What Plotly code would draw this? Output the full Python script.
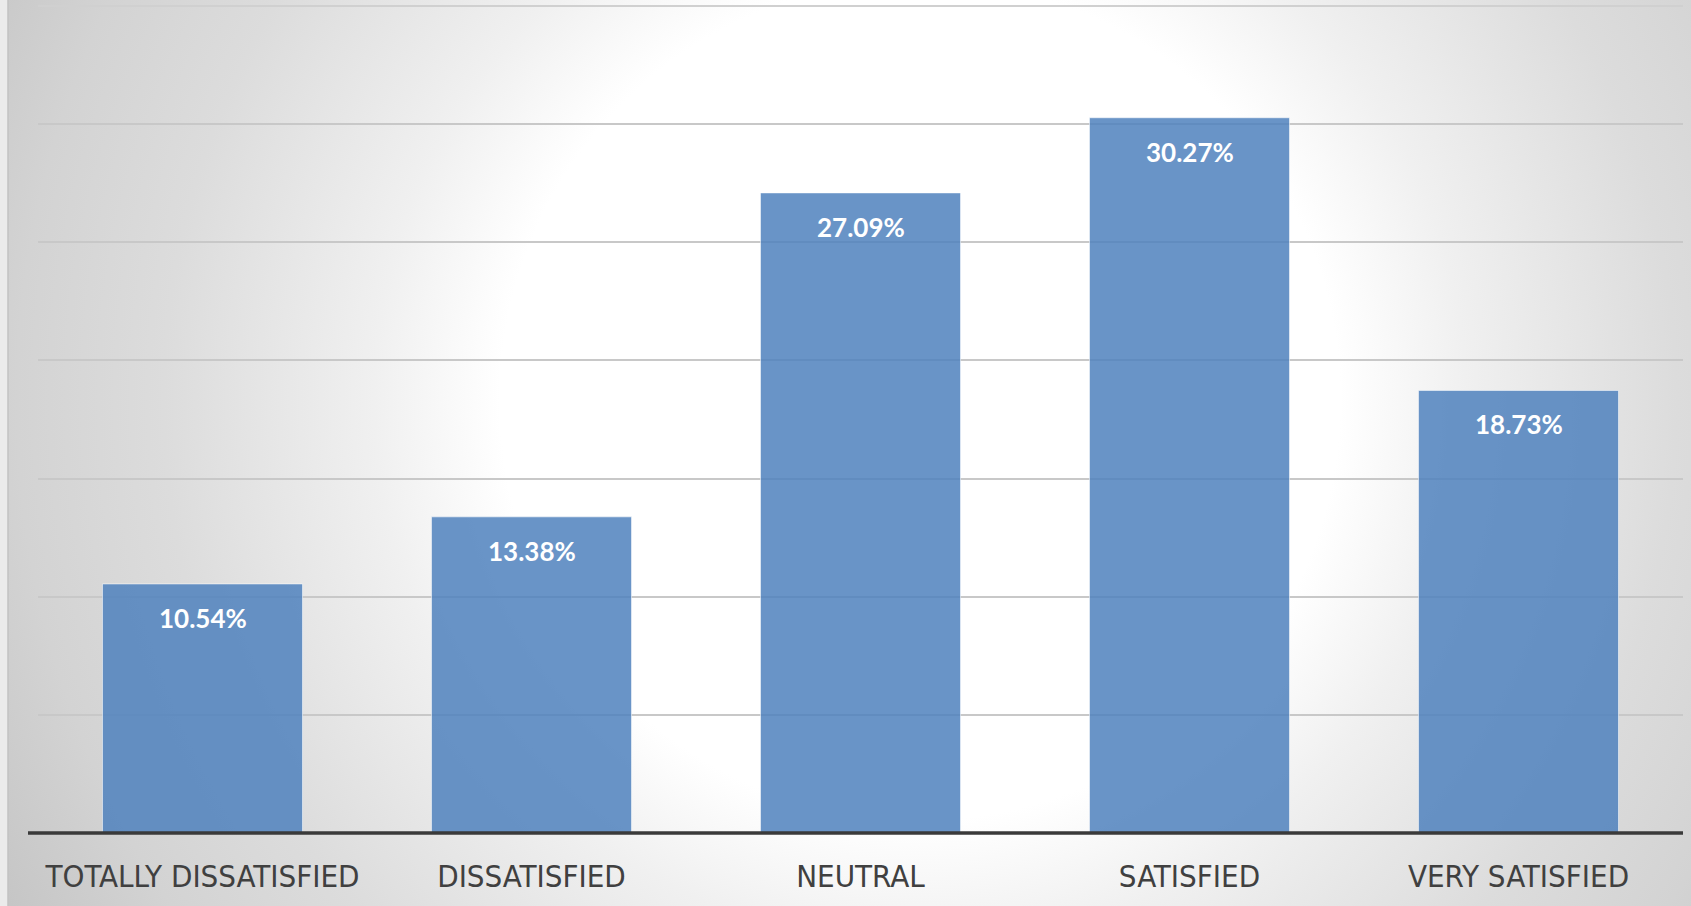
import base64
import plotly.graph_objects as go

categories = ["TOTALLY DISSATISFIED", "DISSATISFIED", "NEUTRAL", "SATISFIED", "VERY SATISFIED"]
values = [10.54, 13.38, 27.09, 30.27, 18.73]
value_labels = ["10.54%", "13.38%", "27.09%", "30.27%", "18.73%"]
y_max = 35

W, H = 1691, 906
ML, MR, MT, MB = 38, 8, 6, 73
PW, PH = W - ML - MR, H - MT - MB

svg = f"""<svg xmlns='http://www.w3.org/2000/svg' width='{W}' height='{H}' viewBox='0 0 {W} {H}' preserveAspectRatio='none'>
<defs><radialGradient id='g' gradientUnits='userSpaceOnUse' cx='920' cy='400' r='1050'>
<stop offset='0' stop-color='#ffffff'/>
<stop offset='0.40' stop-color='#ffffff'/>
<stop offset='0.52' stop-color='#f0f0f0'/>
<stop offset='0.72' stop-color='#dcdcdc'/>
<stop offset='0.86' stop-color='#d3d3d3'/>
<stop offset='1' stop-color='#c5c5c5'/>
</radialGradient></defs>
<rect x='0' y='0' width='{W}' height='{H}' fill='url(#g)'/>
</svg>"""
bg_src = "data:image/svg+xml;base64," + base64.b64encode(svg.encode()).decode()

fig = go.Figure()
fig.add_trace(go.Bar(
    x=categories, y=values,
    marker=dict(color="rgba(79,129,189,0.85)", line=dict(color="rgba(255,255,255,0.55)", width=1)),
    width=0.608,
    hoverinfo="skip",
))

for c, v, t in zip(categories, values, value_labels):
    fig.add_annotation(x=c, y=v, text=t, showarrow=False, yanchor="middle", yshift=-34,
                       font=dict(family="Lato, Open Sans, sans-serif", size=26, color="white", weight="bold"))

# top gridline (range edge)
fig.add_shape(type="line", xref="paper", yref="paper", x0=0, x1=1.0, y0=1, y1=1,
              line=dict(color="#d0d0d0", width=2), layer="below")
# baseline
fig.add_shape(type="line", xref="paper", yref="paper", x0=-10 / PW, x1=1.0, y0=0, y1=0,
              line=dict(color="#3a3a3a", width=3.5), layer="above")
# left frame strip and line
fig.add_shape(type="rect", xref="paper", yref="paper", x0=-ML / PW, x1=(8 - ML) / PW,
              y0=-MB / PH, y1=1 + MT / PH, fillcolor="#ebebeb", line=dict(width=0), layer="below")
fig.add_shape(type="line", xref="paper", yref="paper", x0=(8 - ML) / PW, x1=(8 - ML) / PW,
              y0=-MB / PH, y1=1 + MT / PH, line=dict(color="#c2c2c2", width=1.5), layer="below")

fig.add_layout_image(dict(source=bg_src, xref="paper", yref="paper", x=-ML / PW, y=1 + MT / PH,
                          sizex=W / PW, sizey=H / PH, xanchor="left", yanchor="top",
                          sizing="stretch", layer="below"))

fig.update_layout(
    width=W, height=H,
    margin=dict(l=ML, r=MR, t=MT, b=MB),
    paper_bgcolor="#d8d8d8",
    plot_bgcolor="rgba(0,0,0,0)",
    showlegend=False,
    xaxis=dict(showgrid=False, showline=False, zeroline=False, ticks="outside", ticklen=16,
               tickcolor="rgba(0,0,0,0)",
               tickfont=dict(family="Liberation Sans Narrow, DejaVu Sans Condensed, Roboto Condensed, Noto Sans, sans-serif",
                             size=31, color="#404040")),
    yaxis=dict(range=[0, y_max], dtick=5, showgrid=True, gridcolor="#c8c8c8", gridwidth=1.5,
               showticklabels=False, zeroline=False, showline=False, fixedrange=True),
)

fig.write_html("out.html", config={"displayModeBar": False},
               post_script="document.body.style.margin='0';document.body.style.overflow='hidden';")
